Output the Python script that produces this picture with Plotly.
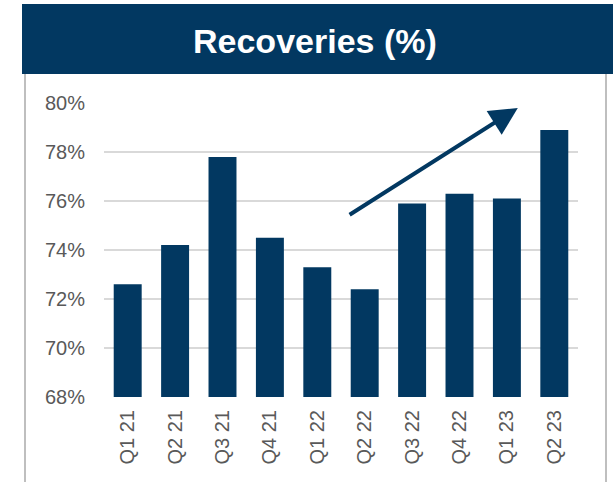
# Recoveries (%) — quarterly bar chart with trend arrow
import plotly.graph_objects as go

quarters = ["Q1 21", "Q2 21", "Q3 21", "Q4 21", "Q1 22",
            "Q2 22", "Q3 22", "Q4 22", "Q1 23", "Q2 23"]
recoveries = [72.6, 74.2, 77.8, 74.5, 73.3, 72.4, 75.9, 76.3, 76.1, 78.9]
y_ticks = [68, 70, 72, 74, 76, 78, 80]

NAVY = "#023861"
GREY_TXT = "#595959"

fig = go.Figure(
    go.Bar(
        x=quarters,
        y=recoveries,
        marker=dict(color=NAVY, line=dict(width=0)),
        width=0.59,
    )
)

# plot area in window px: x 104-578, y 103-397
W, H = 613, 482
L, R, T, B = 104, 35, 103, 85
pw, ph = W - L - R, H - T - B

def px_x(v):  # window px -> paper
    return (v - L) / pw

def px_y(v):
    return (H - B - v) / ph

fig.update_layout(
    width=W, height=H,
    margin=dict(l=L, r=R, t=T, b=B),
    paper_bgcolor="white",
    plot_bgcolor="white",
    font=dict(family="Liberation Sans, Arial", color=GREY_TXT, size=20),
    showlegend=False,
    xaxis=dict(
        tickangle=-90,
        showgrid=False,
        ticks="",
        ticklabelstandoff=8,
        tickfont=dict(size=20, color=GREY_TXT),
    ),
    yaxis=dict(
        range=[68, 80],
        tickvals=y_ticks,
        ticktext=[f"{v}%" for v in y_ticks],
        gridcolor="#d9d9d9",
        gridwidth=1.5,
        zeroline=False,
        ticks="",
        ticklabelstandoff=18,
        tickfont=dict(size=20, color=GREY_TXT),
    ),
    shapes=[
        # title banner
        dict(type="rect", xref="paper", yref="paper",
             x0=px_x(22), x1=px_x(620), y0=px_y(74), y1=px_y(4),
             fillcolor=NAVY, line=dict(width=0), layer="above"),
        # frame lines
        dict(type="line", xref="paper", yref="paper",
             x0=px_x(25), x1=px_x(25), y0=px_y(490), y1=px_y(74),
             line=dict(color="#bfbfbf", width=2)),
        dict(type="line", xref="paper", yref="paper",
             x0=px_x(606), x1=px_x(606), y0=px_y(490), y1=px_y(74),
             line=dict(color="#bfbfbf", width=2)),
    ],
    annotations=[
        dict(text="<b>Recoveries (%)</b>", xref="paper", yref="paper",
             x=px_x(315), y=px_y(41), xanchor="center", yanchor="middle",
             showarrow=False,
             font=dict(size=34, color="white", family="Liberation Sans, Arial")),
        # trend arrow
        dict(x=8.23, y=79.8, ax=4.65, ay=75.4,
             xref="x", yref="y", axref="x", ayref="y",
             text="", showarrow=True, arrowhead=2, arrowsize=1.4,
             arrowwidth=4, arrowcolor=NAVY),
    ],
)

# drop the default 8px page margin so the figure fills the window exactly
fig.write_html(
    "out.html",
    config={"displayModeBar": False},
    post_script="document.body.style.margin='0px';",
)
